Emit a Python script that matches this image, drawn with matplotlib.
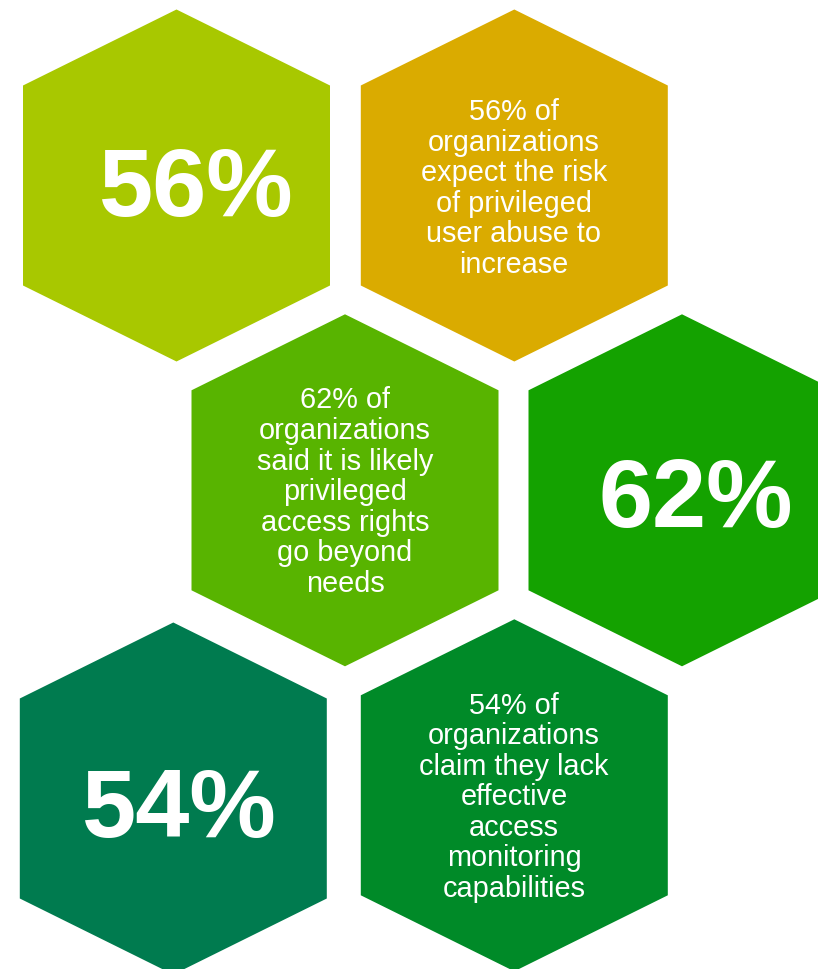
import matplotlib
matplotlib.use("Agg")
import matplotlib.pyplot as plt
from matplotlib.patches import Polygon

# values shown on the big tiles
big_labels = ["56%", "62%", "54%"]
# statements on the text tiles
statements = [
    "56% of\norganizations\nexpect the risk\nof privileged\nuser abuse to\nincrease",
    "62% of\norganizations\nsaid it is likely\nprivileged\naccess rights\ngo beyond\nneeds",
    "54% of\norganizations\nclaim they lack\neffective\naccess\nmonitoring\ncapabilities",
]
big_colors = ["#a8c800", "#14a200", "#007b4f"]
text_colors = ["#daab00", "#58b400", "#008a28"]

# layout (pixel coords, y down)
big_centers = [(176.5, 185.5), (682, 490.3), (173.3, 798.5)]
text_centers = [(514.3, 185.5), (345, 490.3), (514.3, 795.3)]
big_text_pos = [(196, 215.5), (696, 527), (179.7, 837.5)]
text_pos = [(514, 98), (345, 386.5), (514, 691.5)]

W, H, S = 153.5, 176, 100


def hexagon(cx, cy, color):
    pts = [(cx, cy - H), (cx + W, cy - S), (cx + W, cy + S),
           (cx, cy + H), (cx - W, cy + S), (cx - W, cy - S)]
    return Polygon(pts, closed=True, facecolor=color, edgecolor="none")


fig = plt.figure(figsize=(8.18, 9.69), dpi=100)
ax = fig.add_axes([0, 0, 1, 1])
ax.set_xlim(0, 818)
ax.set_ylim(969, 0)
ax.axis("off")

for (cx, cy), c in zip(big_centers, big_colors):
    ax.add_patch(hexagon(cx, cy, c))
for (cx, cy), c in zip(text_centers, text_colors):
    ax.add_patch(hexagon(cx, cy, c))

for (x, y), lab in zip(big_text_pos, big_labels):
    ax.text(x, y, lab, ha="center", va="baseline", color="white",
            fontsize=70, fontweight="bold", family="Liberation Sans")

for (x, y), txt in zip(text_pos, statements):
    ax.text(x, y, txt, ha="center", va="top", color="white",
            fontsize=20.8, family="Liberation Sans", linespacing=1.115,
            multialignment="center")

fig.savefig("out.png", dpi=100)
